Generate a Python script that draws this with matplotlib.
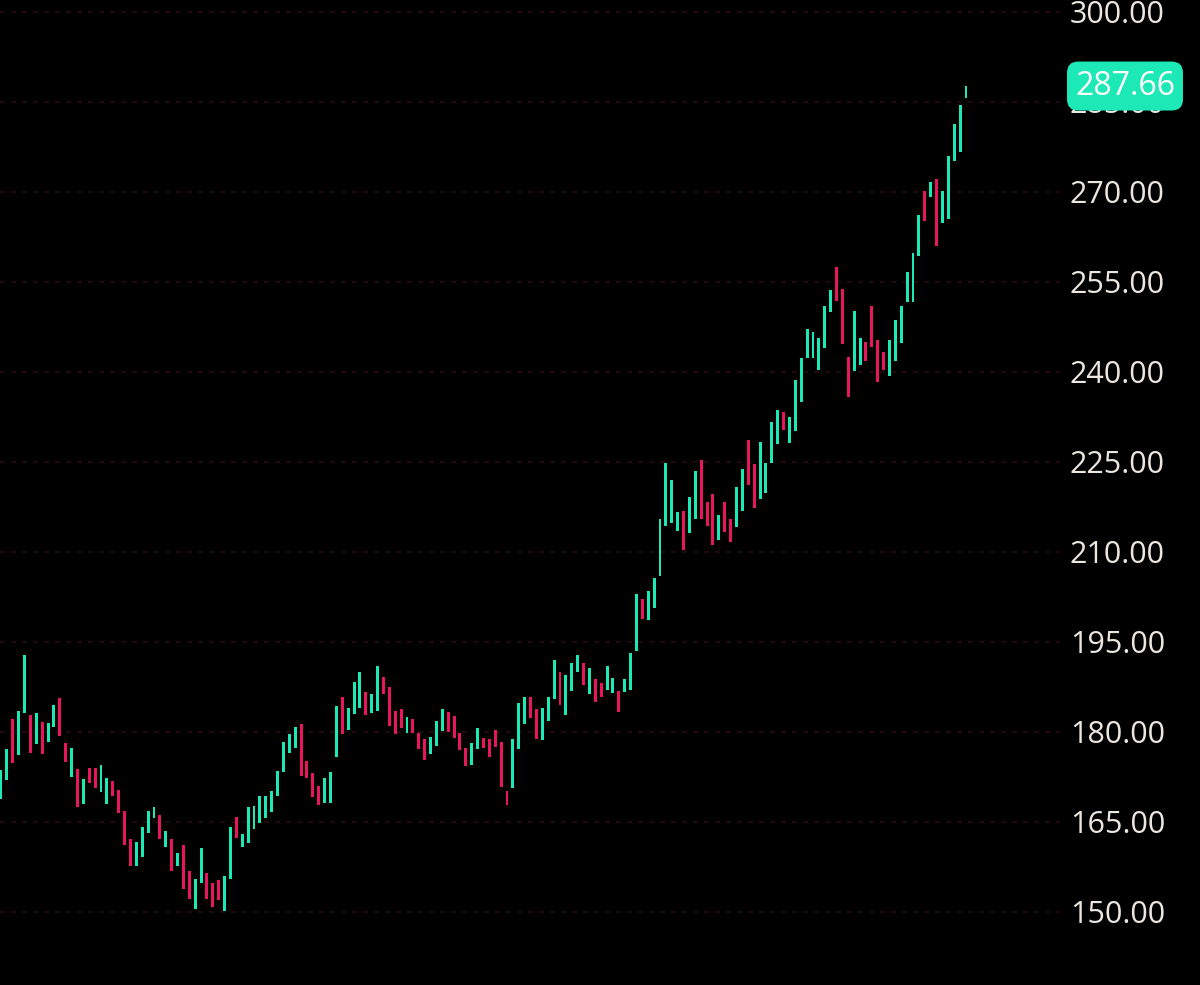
import matplotlib.pyplot as plt

# candle ranges (high, low) and direction
highs = [173.7, 177.2, 182.2, 183.5, 192.8, 182.8, 183.2, 181.7, 181.5, 184.5,
         185.7, 178.2, 177.3, 173.8, 172.2, 174.0, 174.0, 174.5, 172.3, 171.8,
         170.3, 166.8, 162.2, 161.7, 164.2, 166.8, 167.5, 166.2, 163.5, 162.2,
         159.8, 161.2, 156.8, 155.5, 160.7, 156.5, 154.8, 155.3, 156.0, 164.2,
         165.8, 163.0, 167.5, 167.7, 169.3, 169.3, 170.2, 173.5, 178.3, 179.7,
         180.8, 181.3, 175.2, 173.2, 171.0, 172.3, 173.3, 184.3, 185.8, 184.0,
         188.3, 190.0, 186.7, 186.3, 191.0, 189.2, 187.5, 183.5, 183.8, 182.5,
         182.2, 179.8, 178.8, 179.2, 181.8, 183.8, 183.3, 182.7, 179.8, 177.3,
         178.2, 180.7, 179.0, 178.8, 180.3, 178.3, 170.2, 178.8, 184.8, 185.8,
         185.8, 183.8, 184.0, 185.8, 192.0, 190.0, 189.5, 191.5, 192.8, 191.5,
         190.7, 188.8, 188.2, 191.0, 189.0, 186.8, 188.8, 193.2, 203.0, 202.2,
         203.5, 205.7, 215.5, 224.8, 222.0, 216.7, 216.8, 219.2, 223.5, 225.3,
         218.3, 219.7, 216.2, 218.3, 215.5, 220.8, 223.8, 228.7, 224.7, 228.3,
         224.8, 231.7, 233.7, 233.3, 232.5, 238.7, 242.3, 247.2, 246.7, 245.7,
         251.0, 253.7, 257.5, 253.8, 242.5, 250.2, 245.7, 245.0, 251.0, 245.3,
         243.3, 245.3, 248.7, 251.0, 256.7, 259.8, 266.2, 270.2, 271.7, 272.2,
         270.2, 276.0, 281.3, 284.5, 287.7]
lows = [168.8, 172.0, 174.8, 176.2, 183.2, 176.5, 178.0, 176.3, 178.3, 180.8,
        179.3, 175.0, 172.5, 167.5, 168.0, 171.5, 170.7, 170.0, 168.0, 169.3,
        166.5, 161.2, 157.7, 157.7, 159.2, 163.2, 165.7, 162.2, 160.8, 156.8,
        157.7, 153.8, 152.2, 150.5, 154.8, 152.2, 150.8, 152.0, 150.2, 155.5,
        162.3, 160.8, 161.5, 163.8, 164.8, 165.7, 166.7, 169.3, 173.3, 176.5,
        177.3, 172.7, 172.3, 169.2, 167.8, 168.2, 168.2, 175.8, 179.7, 180.3,
        183.0, 184.0, 182.8, 183.2, 183.5, 186.3, 181.0, 179.7, 180.7, 179.8,
        179.8, 177.2, 175.3, 176.3, 177.7, 180.2, 180.0, 179.0, 177.0, 174.3,
        174.5, 177.2, 177.3, 175.8, 177.5, 170.8, 167.8, 170.7, 177.2, 181.3,
        182.3, 178.8, 178.7, 181.8, 185.5, 184.5, 182.8, 186.8, 190.0, 187.8,
        186.3, 185.0, 185.8, 187.0, 186.5, 183.3, 186.7, 187.0, 193.5, 198.8,
        198.7, 200.7, 206.0, 214.3, 214.8, 213.5, 210.3, 213.2, 215.5, 215.5,
        214.3, 211.2, 212.0, 213.3, 211.7, 214.2, 216.8, 221.2, 217.3, 218.8,
        219.8, 224.8, 228.0, 230.3, 228.2, 230.2, 235.0, 242.3, 242.3, 240.3,
        244.0, 250.0, 251.8, 244.7, 235.8, 240.2, 241.2, 241.8, 244.2, 238.3,
        240.3, 239.3, 241.8, 244.8, 251.7, 251.7, 259.3, 265.2, 269.2, 261.0,
        264.8, 265.5, 275.2, 276.7, 285.7]
# g = up candle, r = down candle, ten per group
direction = "".join([
    "ggrggrgrgg", "rrgrgrrggr", "rrrggggrgr", "grrggrrrgg",
    "rggggggggg", "grrrrgggrg", "ggrggrrrrg", "rrrgggrrrr",
    "ggrrrrrggg", "rrgggrgggr", "grrggrgggr", "ggggggrggr",
    "rrgrrggrrg", "gggrgggggg", "ggrrrggrrr", "rggggggrgr",
    "ggggg",
])
last_price = 287.66
yticks = [150, 165, 180, 195, 210, 225, 240, 255, 270, 285, 300]

GREEN = '#1de9b6'
RED = '#e8175d'

fig = plt.figure(figsize=(12, 9.85), dpi=100, facecolor='black')
ax = fig.add_axes([0, 0, 1060 / 1200, 1])
ax.set_facecolor('black')

x = list(range(len(highs)))
colors = [GREEN if d == 'g' else RED for d in direction]
ax.bar(x, [h - l for h, l in zip(highs, lows)], bottom=lows, width=0.5,
       color=colors, linewidth=0, zorder=3)

ax.set_xlim(-0.17, 179.98)
ax.set_ylim(137.83, 302)

for v in yticks:
    ax.axhline(v, color='#260a12', linewidth=1.2, linestyle=(0, (3, 3.6)), zorder=1)

ax.yaxis.tick_right()
ax.set_yticks(yticks)
ax.set_yticklabels([f'{v:.2f}' for v in yticks])
ax.tick_params(axis='y', length=0, pad=7, labelsize=22, labelcolor='#ece6df')
for lab in ax.get_yticklabels():
    lab.set_fontfamily('Open Sans')
ax.set_xticks([])
for s in ax.spines.values():
    s.set_visible(False)

# price badge sits over the 285.00 label, as in the reference
ax.text(1.0 + 65 / 1060, last_price, f'{last_price:.2f}', transform=ax.get_yaxis_transform(),
        ha='center', va='center', fontsize=23, color='white', family='Open Sans',
        clip_on=False, zorder=10,
        bbox=dict(boxstyle='round,pad=0.25,rounding_size=0.35', facecolor=GREEN, edgecolor='none'))

fig.savefig('out.png', dpi=100, facecolor='black')
